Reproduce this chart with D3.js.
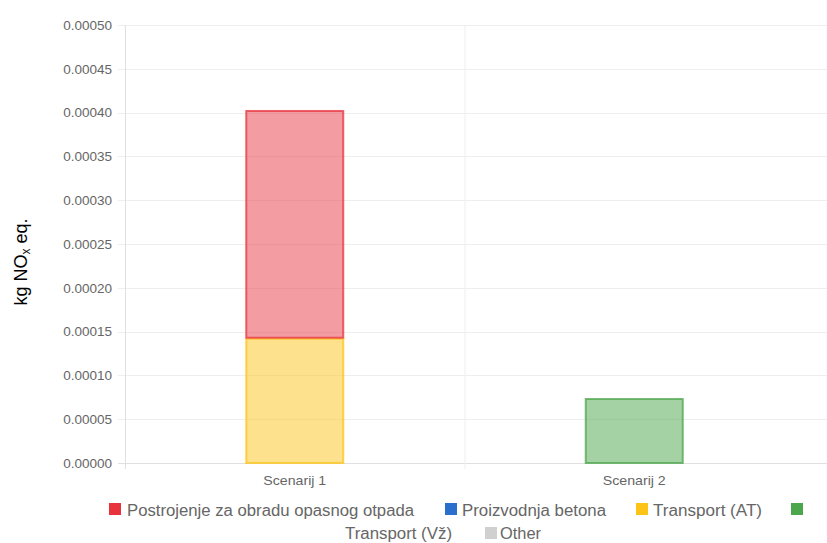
<!DOCTYPE html>
<html><head><meta charset="utf-8">
<script src="https://cdn.jsdelivr.net/npm/d3@7"></script>
<style>body{margin:0;background:#fff;}svg{display:block;font-family:"Liberation Sans",Arial,sans-serif;}</style>
</head><body><svg id="c" width="827" height="543"></svg>
<script>
const categories = ["Scenarij 1", "Scenarij 2"];
const seriesNames = ["Postrojenje za obradu opasnog otpada", "Proizvodnja betona", "Transport (AT)", "Transport (Vž)", "Other"];
const postrojenje = [0.000260, 0];
const betona = [0, 0];
const transportAT = [0.000143, 0];
const transportVz = [0, 0.0000742];
const other = [0, 0];
const yTicks = [0, 0.00005, 0.0001, 0.00015, 0.0002, 0.00025, 0.0003, 0.00035, 0.0004, 0.00045, 0.0005];
const legendColors = ["#e8323c", "#2a6fcc", "#fcc419", "#4ca64c", "#d0d0d0"];
const fillColors = ["rgba(232,60,70,0.5)", "rgba(42,111,204,0.5)", "rgba(252,196,25,0.5)", "rgba(76,166,76,0.5)", "rgba(200,200,200,0.5)"];

(function(){
const svg = d3.select("#c");
const pLeft = 125, pRight = 804, pTop = 25, pBottom = 463;
const x = d3.scaleBand().domain(categories).range([pLeft, pRight]);
const y = d3.scaleLinear().domain([0, 0.0005]).range([pBottom, pTop]);

// grid
const g = svg.append("g");
g.selectAll("line.h").data(yTicks).join("line")
  .attr("x1", pLeft - 7).attr("x2", 827)
  .attr("y1", d => Math.round(y(d)) + 0.5).attr("y2", d => Math.round(y(d)) + 0.5)
  .attr("stroke", d => d === 0 ? "#e0e0e0" : "#eeeeee").attr("stroke-width", 1);
[pLeft, pLeft + x.bandwidth()].forEach((xv, i) => {
  g.append("line").attr("x1", xv + 0.5).attr("x2", xv + 0.5).attr("y1", pTop).attr("y2", pBottom + 6)
    .attr("stroke", i === 0 ? "#e0e0e0" : "#eeeeee");
});

// y tick labels
svg.append("g").selectAll("text").data(yTicks).join("text")
  .attr("x", 112).attr("y", d => y(d)).attr("dy", "0.35em")
  .attr("text-anchor", "end").attr("font-size", 13.5).attr("fill", "#666")
  .text(d => d.toFixed(5));

// x labels
svg.append("g").selectAll("text").data(categories).join("text")
  .attr("x", d => x(d) + x.bandwidth() / 2).attr("y", 485)
  .attr("text-anchor", "middle").attr("font-size", 13).attr("fill", "#666")
  .attr("textLength", 63).attr("lengthAdjust", "spacingAndGlyphs").text(d => d);

// y axis title
svg.append("text").attr("transform", "translate(27,262) rotate(-90)")
  .attr("text-anchor", "middle").attr("font-size", 18).attr("fill", "#000")
  .html('kg NO<tspan font-size="12" dy="3">x</tspan><tspan dy="-3"> eq.</tspan>');

// stacked bars
const seriesVals = [postrojenje, betona, transportAT, transportVz, other];
const stackOrder = [2, 3, 1, 4, 0]; // bottom to top
const barW = 99;
categories.forEach((c, ci) => {
  let base = 0;
  stackOrder.forEach(si => {
    const v = seriesVals[si][ci];
    if (v <= 0) return;
    const y0 = y(base), y1 = y(base + v);
    const cx = x(c) + x.bandwidth() / 2;
    svg.append("rect").attr("x", cx - barW / 2 + 1).attr("y", y1 + 1)
      .attr("width", barW - 2).attr("height", y0 - y1 - 1)
      .attr("fill", fillColors[si]).attr("stroke", legendColors[si]).attr("stroke-opacity", 0.75).attr("stroke-width", 2);
    base += v;
  });
});

// legend
const leg = svg.append("g").attr("font-size", 16).attr("fill", "#666");
const items = [
  {i:0, bx:109, by:503, tx:127, ty:516, w:287},
  {i:1, bx:445, by:503, tx:462, ty:516, w:144},
  {i:2, bx:636, by:503, tx:653, ty:516, w:109},
  {i:3, bx:791, by:503, tx:345, ty:539, w:107},
  {i:4, bx:485, by:527, tx:500, ty:539, w:41}
];
items.forEach(o => {
  leg.append("rect").attr("x", o.bx).attr("y", o.by).attr("width", 12).attr("height", 12).attr("fill", legendColors[o.i]);
  leg.append("text").attr("x", o.tx).attr("y", o.ty).attr("fill", "#666")
    .attr("textLength", o.w).attr("lengthAdjust", "spacingAndGlyphs").text(seriesNames[o.i]);
});
})();
</script></body></html>
